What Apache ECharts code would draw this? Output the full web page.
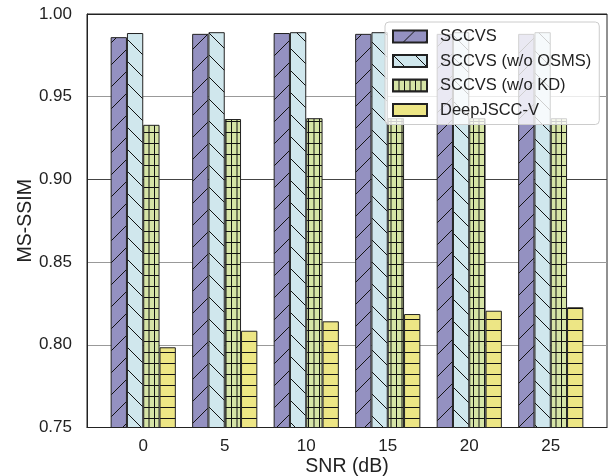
<!DOCTYPE html>
<html>
<head>
<meta charset="utf-8">
<script src="https://cdn.jsdelivr.net/npm/echarts@6/dist/echarts.min.js"></script>
<style>html,body{margin:0;padding:0;background:#fff}#c{width:615px;height:476px}</style>
</head>
<body>
<div id="c"></div>
<script>
const snr = [0, 5, 10, 15, 20, 25];
const seriesNames = ['SCCVS', 'SCCVS (w/o OSMS)', 'SCCVS (w/o KD)', 'DeepJSCC-V'];
const sccvs = [0.986, 0.988, 0.9885, 0.988, 0.988, 0.988];
const sccvsNoOSMS = [0.9885, 0.989, 0.989, 0.989, 0.989, 0.989];
const sccvsNoKD = [0.933, 0.9365, 0.937, 0.937, 0.937, 0.937];
const deepjscc = [0.7985, 0.8085, 0.8142, 0.8186, 0.8206, 0.8227];
const yTicks = [0.75, 0.80, 0.85, 0.90, 0.95, 1.00];

function makePattern(bg, type) {
  const c = document.createElement('canvas');
  let w = 11, h = 11;
  if (type === '/' || type === '\\') { w = 22; h = 22; }
  c.width = w; c.height = h;
  const ctx = c.getContext('2d');
  ctx.fillStyle = bg; ctx.fillRect(0, 0, w, h);
  ctx.strokeStyle = '#111'; ctx.lineWidth = 1;
  ctx.beginPath();
  if (type === '/') {
    ctx.moveTo(-2, h + 2); ctx.lineTo(w + 2, -2);
    ctx.moveTo(-2, 2); ctx.lineTo(2, -2);
    ctx.moveTo(w - 2, h + 2); ctx.lineTo(w + 2, h - 2);
  } else if (type === '\\') {
    ctx.moveTo(-2, -2); ctx.lineTo(w + 2, h + 2);
    ctx.moveTo(w - 2, -2); ctx.lineTo(w + 2, 2);
    ctx.moveTo(-2, h - 2); ctx.lineTo(2, h + 2);
  } else if (type === '+') {
    ctx.moveTo(0, 0.5); ctx.lineTo(w, 0.5);
    ctx.moveTo(0.5, 0); ctx.lineTo(0.5, h);
    ctx.moveTo(6, 0); ctx.lineTo(6, h);
  } else if (type === '-') {
    ctx.moveTo(0, 0.5); ctx.lineTo(w, 0.5);
  }
  ctx.stroke();
  return { image: c, repeat: 'repeat' };
}

const fills = [
  makePattern('#9491c1', '/'),
  makePattern('#d0e7ed', '\\'),
  makePattern('#d6e4a6', '+'),
  makePattern('#ede685', '-')
];
const values = [sccvs, sccvsNoOSMS, sccvsNoKD, deepjscc];
const font = 'Liberation Sans, Arial, sans-serif';

const chart = echarts.init(document.getElementById('c'), null, { renderer: 'canvas' });
chart.setOption({
  animation: false,
  textStyle: { fontFamily: font },
  grid: { left: 87, right: 8, top: 14, bottom: 48.5, show: true, borderColor: '#222', borderWidth: 1, backgroundColor: 'transparent', outerBoundsMode: 'none', containLabel: false },
  legend: {
    orient: 'vertical', left: 385, top: 22,
    padding: [6, 8, 6, 7],
    itemWidth: 34, itemHeight: 12, itemGap: 7.5,
    backgroundColor: 'rgba(255,255,255,0.8)',
    borderColor: '#cccccc', borderWidth: 1, borderRadius: 4,
    textStyle: { fontSize: 16.5, color: '#222', fontFamily: font, padding: [0, 0, 0, 8] },
    icon: 'rect',
    data: seriesNames
  },
  xAxis: {
    type: 'value', min: -3.45, max: 28.45,
    name: 'SNR (dB)', nameLocation: 'middle', nameGap: 29, nameMoveOverlap: false,
    nameTextStyle: { fontSize: 19.5, color: '#222', fontFamily: font },
    axisLine: { show: true, onZero: false, lineStyle: { color: '#222', width: 1 } },
    axisTick: { show: false },
    splitLine: { show: false },
    axisLabel: { customValues: snr, fontSize: 17, color: '#222', margin: 10, fontFamily: font }
  },
  yAxis: {
    type: 'value', min: 0.75, max: 1.0, interval: 0.05,
    name: 'MS-SSIM', nameLocation: 'middle', nameGap: 51, nameMoveOverlap: false,
    nameTextStyle: { fontSize: 19.5, color: '#222', fontFamily: font },
    axisLine: { show: true, onZero: false, lineStyle: { color: '#222', width: 1 } },
    axisTick: { show: false },
    splitLine: { show: true, lineStyle: { color: ['#222', '#999', '#999', '#444', '#999', '#222'], width: 1 } },
    axisLabel: { fontSize: 17, color: '#222', margin: 15, fontFamily: font, formatter: v => v.toFixed(2) }
  },
  series: seriesNames.map((name, k) => ({
    name, type: 'bar',
    barWidth: 16.3, barGap: '0%',
    itemStyle: { color: fills[k], borderColor: '#222', borderWidth: 1 },
    data: snr.map((x, i) => [x, values[k][i]])
  }))
});
</script>
</body>
</html>
